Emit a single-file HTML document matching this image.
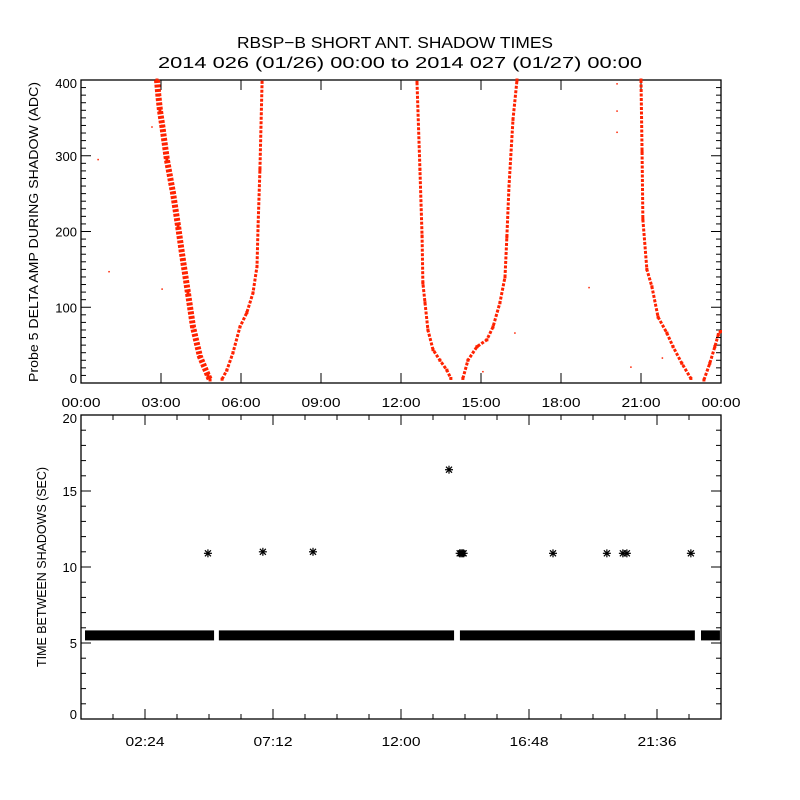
<!DOCTYPE html>
<html><head><meta charset="utf-8"><style>
html,body{margin:0;padding:0;background:#fff}
svg{display:block}
text{font-family:"Liberation Sans",sans-serif;fill:#000}
</style></head><body>
<svg id="chart" width="800" height="800" viewBox="0 0 800 800">
<rect width="800" height="800" fill="#fff"/>
<text x="395" y="48" font-size="16" text-anchor="middle" textLength="316" lengthAdjust="spacingAndGlyphs">RBSP−B SHORT ANT. SHADOW TIMES</text>
<text x="400" y="68" font-size="16" text-anchor="middle" textLength="484" lengthAdjust="spacingAndGlyphs">2014 026 (01/26) 00:00 to 2014 027 (01/27) 00:00</text>
<g id="topPanel"></g>
<g id="botPanel"></g>
</svg>
<script>
// ---- top panel data: [hour, ADC] ----
const pass1Down = [[2.85,400],[2.9,380],[2.96,360],[3.05,339],[3.22,295],[3.45,251],[3.64,207],[3.82,163],[4.01,119],[4.2,74],[4.46,35],[4.76,10],[4.84,4]];
const pass1Up = [[5.29,5],[5.47,17],[5.7,40],[5.96,74],[6.22,93],[6.45,119],[6.6,154],[6.64,207],[6.71,282],[6.79,397]];
const pass2Down = [[12.6,397],[12.71,282],[12.79,194],[12.82,132],[12.9,106],[13.01,70],[13.2,44],[13.46,30],[13.72,17],[13.87,6]];
const pass2Up = [[14.32,6],[14.51,30],[14.85,48],[15.22,57],[15.45,74],[15.71,106],[15.9,140],[15.97,193],[16.05,260],[16.2,348],[16.35,400]];
const pass3Down = [[21.0,400],[21.04,305],[21.07,216],[21.22,150],[21.41,127],[21.64,87],[21.97,66],[22.2,48],[22.53,26],[22.87,6]];
const pass3Up = [[23.36,4],[23.58,26],[23.77,48],[23.9,64],[23.98,68]];
const strayPoints = [[0.64,295],[1.05,147],[3.04,124],[2.66,338],[19.05,126],[16.27,66],[20.1,395],[20.1,359],[20.1,331],[20.62,21],[21.8,33],[15.07,15]];
const topXTicks = ["00:00","03:00","06:00","09:00","12:00","15:00","18:00","21:00","00:00"];
const topYTicks = [0,100,200,300,400];
// ---- bottom panel data ----
const bandSegments = [[0.15,4.99],[5.17,13.99],[14.21,23.02],[23.25,23.96]];
const bandValue = 5.5;
const outlierHours = [4.76,6.82,8.70,13.80,14.2,14.25,14.3,14.35,17.70,19.72,20.32,20.47,22.87];
const outlierValues = [10.9,11.0,11.0,16.4,10.9,10.9,10.9,10.9,10.9,10.9,10.9,10.9,10.9];
const botXTicks = ["02:24","07:12","12:00","16:48","21:36"];
const botYTicks = [0,5,10,15,20];

const NS="http://www.w3.org/2000/svg";
function mk(parent,tag,attrs,txt){const e=document.createElementNS(NS,tag);for(const k in attrs)e.setAttribute(k,attrs[k]);if(txt!==undefined)e.textContent=txt;parent.appendChild(e);return e;}
const L=81,R=721;
const xh=h=>L+h*(R-L)/24;
const T1=80,B1=383, yT=v=>B1-v*(B1-T1)/400;
const T2=415,B2=719, yB=v=>B2-v*(B2-T2)/20;

const topG=document.getElementById('topPanel');
let f=mk(topG,'rect',{x:L,y:T1,width:R-L,height:B1-T1,fill:'none',stroke:'#000','stroke-width':1.3});


for(let i=0;i<=40;i++){const y=yT(i*10);const len=(i%10===0)?10:5;
  mk(topG,'line',{x1:L,x2:L+len,y1:y,y2:y,stroke:'#000'});mk(topG,'line',{x1:R,x2:R-len,y1:y,y2:y,stroke:'#000'});}
topYTicks.forEach(v=>{const t=mk(topG,'text',{x:77,y:Math.min(Math.max(yT(v)+5,T1+8),B1),'font-size':13,'text-anchor':'end'},String(v));
  
  });
topXTicks.forEach((s,i)=>{const x=xh(i*3);
  mk(topG,'line',{x1:x,x2:x,y1:B1,y2:B1-10,stroke:'#000'});mk(topG,'line',{x1:x,x2:x,y1:T1,y2:T1+10,stroke:'#000'});
  const t=mk(topG,'text',{x:x,y:407,'font-size':13,'text-anchor':'middle',textLength:39,lengthAdjust:'spacingAndGlyphs'},s);
  
  });
let yl=mk(topG,'text',{x:0,y:0,'font-size':13,'text-anchor':'middle',transform:'translate(38,232) rotate(-90)',textLength:300,lengthAdjust:'spacingAndGlyphs'},'Probe 5 DELTA AMP DURING SHADOW (ADC)');


const passes=[pass1Down,pass1Up,pass2Down,pass2Up,pass3Down,pass3Up];
passes.forEach((p,i)=>{
  const pl=mk(topG,'polyline',{points:p.map(d=>xh(d[0])+','+yT(d[1])).join(' '),fill:'none',stroke:'#ff2200','stroke-width':(i===0?6:3),'stroke-dasharray':'3 1.5','stroke-linejoin':'round'});
  
  
  p.forEach(d=>{const r=mk(topG,'rect',{x:xh(d[0])-1.5,y:yT(d[1])-1.5,width:3,height:3,fill:'#ff2200'});
    
    });
});
strayPoints.forEach(d=>{const r=mk(topG,'rect',{x:xh(d[0])-0.7,y:yT(d[1])-0.7,width:1.5,height:1.5,fill:'#ff2200'});
  
  });

const botG=document.getElementById('botPanel');
f=mk(botG,'rect',{x:L,y:T2,width:R-L,height:B2-T2,fill:'none',stroke:'#000','stroke-width':1.3});


for(let i=0;i<=20;i++){const y=yB(i);const len=(i%5===0)?10:5;
  mk(botG,'line',{x1:L,x2:L+len,y1:y,y2:y,stroke:'#000'});mk(botG,'line',{x1:R,x2:R-len,y1:y,y2:y,stroke:'#000'});}
botYTicks.forEach(v=>{const t=mk(botG,'text',{x:77,y:Math.min(Math.max(yB(v)+5,T2+8),B2),'font-size':13,'text-anchor':'end'},String(v));
  
  });
for(let i=1;i<20;i++){const x=xh(i*1.2);const len=(i%4===2)?10:5;
  mk(botG,'line',{x1:x,x2:x,y1:B2,y2:B2-len,stroke:'#000'});mk(botG,'line',{x1:x,x2:x,y1:T2,y2:T2+len,stroke:'#000'});}
botXTicks.forEach((s,i)=>{const x=xh(2.4+i*4.8);
  const t=mk(botG,'text',{x:x,y:746,'font-size':13,'text-anchor':'middle',textLength:39,lengthAdjust:'spacingAndGlyphs'},s);
  
  });
yl=mk(botG,'text',{x:0,y:0,'font-size':13,'text-anchor':'middle',transform:'translate(46,567) rotate(-90)',textLength:200,lengthAdjust:'spacingAndGlyphs'},'TIME BETWEEN SHADOWS (SEC)');


bandSegments.forEach(s=>{const r=mk(botG,'rect',{x:xh(s[0]),y:yB(bandValue)-5,width:xh(s[1])-xh(s[0]),height:10,fill:'#000'});
  
  });
outlierHours.forEach((h,i)=>{const cx=xh(h),cy=yB(outlierValues[i]);
  const g=mk(botG,'g',{stroke:'#000','stroke-width':1.2});
  
  
  mk(g,'line',{x1:cx-4,x2:cx+4,y1:cy,y2:cy});mk(g,'line',{x1:cx,x2:cx,y1:cy-4,y2:cy+4});
  mk(g,'line',{x1:cx-3,x2:cx+3,y1:cy-3,y2:cy+3});mk(g,'line',{x1:cx-3,x2:cx+3,y1:cy+3,y2:cy-3});});
</script>
</body></html>
